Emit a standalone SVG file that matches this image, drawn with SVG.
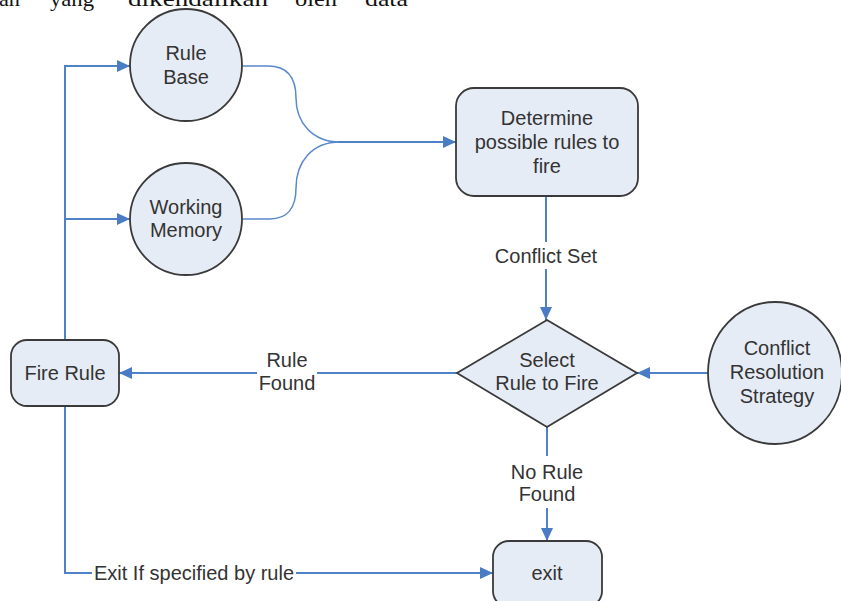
<svg xmlns="http://www.w3.org/2000/svg" width="841" height="601" viewBox="0 0 841 601">
<style>
.node{fill:#e6ecf6;stroke:#3a3a3a;stroke-width:1.8}
.lbl{font-family:"Liberation Sans",Arial,sans-serif;font-size:20px;fill:#333;text-anchor:middle}
.conn{fill:none;stroke:#4f81c8;stroke-width:2}
.thin{fill:none;stroke:#5a88cc;stroke-width:1.5}
.bg{fill:#fff}
.top{font-family:"Liberation Serif","Times New Roman",serif;font-size:22px;fill:#111}
</style>
<defs>
<marker id="ah" markerUnits="userSpaceOnUse" markerWidth="14" markerHeight="12" refX="13" refY="6" orient="auto">
<path d="M0,0 L13,6 L0,12 z" fill="#4a7cc6"/>
</marker>
</defs>
<rect width="841" height="601" fill="#fff"/>
<g id="page-text">
<text class="top" x="-1" y="6" textLength="21" lengthAdjust="spacingAndGlyphs">an</text>
<text class="top" x="50" y="6" textLength="44" lengthAdjust="spacingAndGlyphs">yang</text>
<text class="top" x="128" y="6" textLength="140" lengthAdjust="spacingAndGlyphs">dikendalikan</text>
<text class="top" x="295" y="6" textLength="42" lengthAdjust="spacingAndGlyphs">oleh</text>
<text class="top" x="365" y="6" textLength="43" lengthAdjust="spacingAndGlyphs">data</text>
</g>
<g id="connectors">
<path class="conn" d="M65,340 V66 H130" marker-end="url(#ah)"/>
<path class="conn" d="M65,219 H130" marker-end="url(#ah)"/>
<path class="thin" d="M243,66 H268 C288,66 296,78 296,98 C296,122 312,142 340,142"/>
<path class="thin" d="M243,219 H270 C288,219 296,207 296,188 C296,162 312,142 340,142"/>
<path class="conn" d="M338,142 H456" marker-end="url(#ah)"/>
<path class="conn" d="M546,196 V320" marker-end="url(#ah)"/>
<rect class="bg" x="490" y="242" width="112" height="27"/>
<text class="lbl" x="546" y="263">Conflict Set</text>
<path class="conn" d="M708,373 H637" marker-end="url(#ah)"/>
<path class="conn" d="M458,373 H119" marker-end="url(#ah)"/>
<rect class="bg" x="257" y="346" width="60" height="52"/>
<text class="lbl" x="287" y="367">Rule</text>
<text class="lbl" x="287" y="390">Found</text>
<path class="conn" d="M547,427 V541" marker-end="url(#ah)"/>
<rect class="bg" x="505" y="456" width="84" height="52"/>
<text class="lbl" x="547" y="479">No Rule</text>
<text class="lbl" x="547" y="501">Found</text>
<path class="conn" d="M65,406 V573 H493" marker-end="url(#ah)"/>
<rect class="bg" x="92" y="561" width="204" height="24"/>
<text class="lbl" x="194" y="580">Exit If specified by rule</text>
</g>
<g id="rule-base">
<circle class="node" cx="186" cy="65" r="56"/>
<text class="lbl" x="186" y="60">Rule</text>
<text class="lbl" x="186" y="84">Base</text>
</g>
<g id="working-memory">
<circle class="node" cx="186" cy="219" r="56"/>
<text class="lbl" x="186" y="214">Working</text>
<text class="lbl" x="186" y="237">Memory</text>
</g>
<g id="determine">
<rect class="node" x="456" y="88" width="182" height="108" rx="18"/>
<text class="lbl" x="547" y="125">Determine</text>
<text class="lbl" x="547" y="149">possible rules to</text>
<text class="lbl" x="547" y="173">fire</text>
</g>
<g id="select">
<polygon class="node" points="547,320 637,373 547,427 457,373"/>
<text class="lbl" x="547" y="367">Select</text>
<text class="lbl" x="547" y="390">Rule to Fire</text>
</g>
<g id="conflict-resolution">
<ellipse class="node" cx="775" cy="373" rx="67" ry="71"/>
<text class="lbl" x="777" y="355">Conflict</text>
<text class="lbl" x="777" y="379">Resolution</text>
<text class="lbl" x="777" y="403">Strategy</text>
</g>
<g id="fire-rule">
<rect class="node" x="11" y="340" width="108" height="66" rx="16"/>
<text class="lbl" x="65" y="380">Fire Rule</text>
</g>
<g id="exit">
<rect class="node" x="493" y="541" width="109" height="66" rx="16"/>
<text class="lbl" x="547" y="580">exit</text>
</g>
</svg>
